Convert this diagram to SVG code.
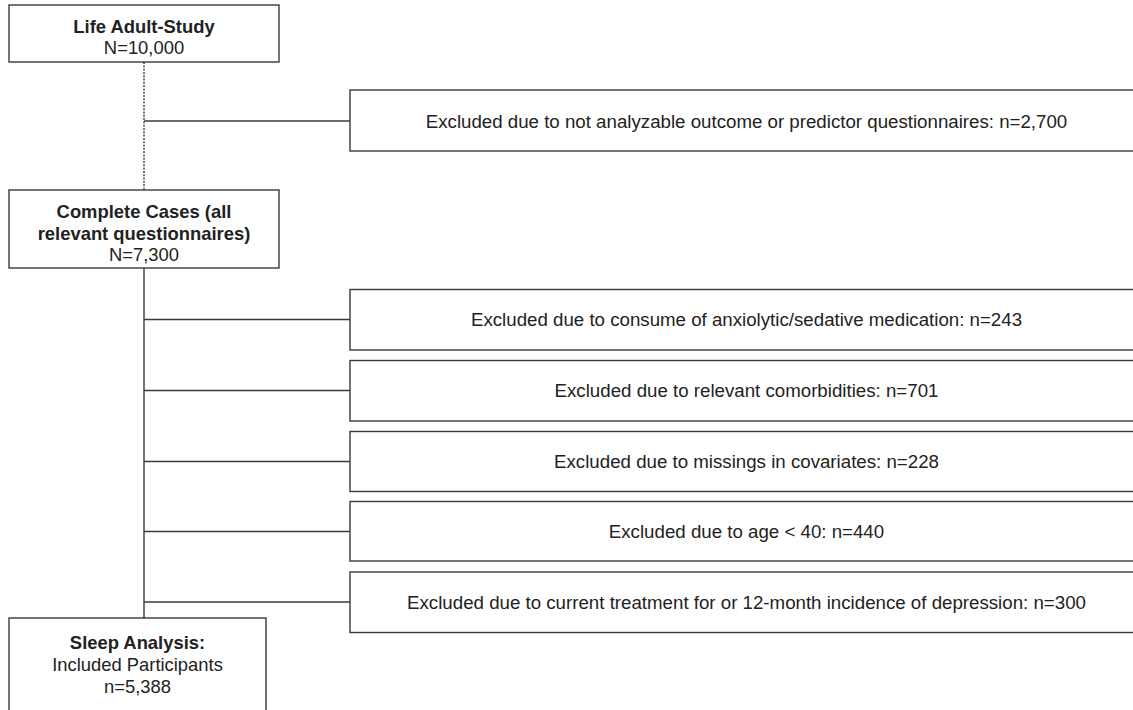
<svg xmlns="http://www.w3.org/2000/svg" width="1133" height="710" viewBox="0 0 1133 710">
<style>
.box{fill:#fff;stroke:#3a3a3a;stroke-width:1.4}
.ln{stroke:#3a3a3a;stroke-width:1.4;fill:none}
.dot{stroke:#3a3a3a;stroke-width:1.4;fill:none;stroke-dasharray:2 1.3}
.t{font-family:"Liberation Sans",Arial,sans-serif;fill:#222;text-anchor:middle}
.l{font-size:18.4px}
.r{font-size:18.7px}
.b{font-weight:bold}
</style>
<rect width="1133" height="710" fill="#fff"/>
<g id="connectors">
<line class="dot" x1="144" y1="62" x2="144" y2="190"/>
<line class="ln" x1="144" y1="121" x2="350" y2="121"/>
<line class="ln" x1="144" y1="268" x2="144" y2="618"/>
<line class="ln" x1="144" y1="319.5" x2="350" y2="319.5"/>
<line class="ln" x1="144" y1="390.5" x2="350" y2="390.5"/>
<line class="ln" x1="144" y1="461.5" x2="350" y2="461.5"/>
<line class="ln" x1="144" y1="531.5" x2="350" y2="531.5"/>
<line class="ln" x1="144" y1="602" x2="350" y2="602"/>
</g>
<g id="n-life">
<rect class="box" x="9" y="5" width="270" height="57"/>
<text class="t l b" x="144" y="33">Life Adult-Study</text>
<text class="t l" x="144" y="54">N=10,000</text>
</g>
<g id="n-complete">
<rect class="box" x="9" y="190" width="270" height="78"/>
<text class="t l b" x="144" y="218">Complete Cases (all</text>
<text class="t l b" x="144" y="240">relevant questionnaires)</text>
<text class="t l" x="144" y="261">N=7,300</text>
</g>
<g id="n-sleep">
<rect class="box" x="9" y="618" width="257" height="100"/>
<text class="t l b" x="137.5" y="649">Sleep Analysis:</text>
<text class="t l" x="137.5" y="671">Included Participants</text>
<text class="t l" x="137.5" y="693">n=5,388</text>
</g>
<g id="e-questionnaires">
<rect class="box" x="350" y="90" width="793" height="61"/>
<text class="t r" x="746.5" y="127.5">Excluded due to not analyzable outcome or predictor questionnaires: n=2,700</text>
</g>
<g id="e-medication">
<rect class="box" x="350" y="289.5" width="793" height="60.5"/>
<text class="t r" x="746.5" y="326">Excluded due to consume of anxiolytic/sedative medication: n=243</text>
</g>
<g id="e-comorbidities">
<rect class="box" x="350" y="360.5" width="793" height="60.5"/>
<text class="t r" x="746.5" y="397">Excluded due to relevant comorbidities: n=701</text>
</g>
<g id="e-covariates">
<rect class="box" x="350" y="431.5" width="793" height="60"/>
<text class="t r" x="746.5" y="468">Excluded due to missings in covariates: n=228</text>
</g>
<g id="e-age">
<rect class="box" x="350" y="501.5" width="793" height="59.5"/>
<text class="t r" x="746.5" y="538">Excluded due to age &lt; 40: n=440</text>
</g>
<g id="e-depression">
<rect class="box" x="350" y="572" width="793" height="60.5"/>
<text class="t r" x="746.5" y="608.5">Excluded due to current treatment for or 12-month incidence of depression: n=300</text>
</g>
</svg>
